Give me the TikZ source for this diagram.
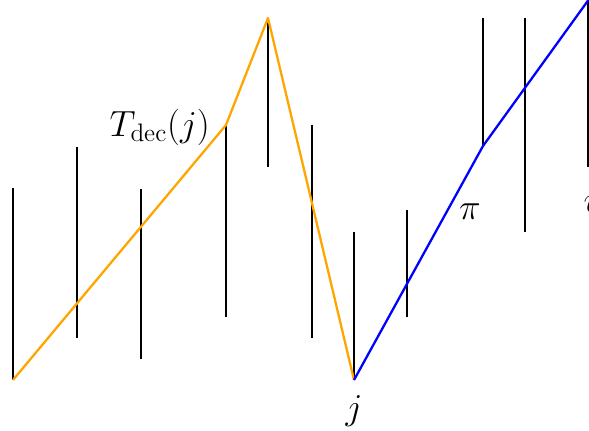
\documentclass[tikz,border=0pt]{standalone}
\usepackage{amsmath}
\usetikzlibrary{calc}
\definecolor{decorange}{RGB}{255,165,0}

\begin{document}
\begin{tikzpicture}[x = 0.02cm, y = -0.02cm, font = \fontsize{20.5}{24}\selectfont]
        % frame
        \useasboundingbox (0,0) rectangle (589,431);
        % bars
        \foreach \x/\t/\b [count=\i] in {13/188/380, 77/147/338, 141/189/359, 226/125/317, 268/18/167, 312/125/338, 354/232/380, 407/210/317, 483/18/146, 525/18/232, 588/0/167}{
            \coordinate(T\i) at (\x,\t);
            \coordinate(B\i) at (\x,\b);
            \path[draw, line width = 1.6pt](T\i) to (B\i);
        }
        % points
        \coordinate(P0) at (13,380);
        \coordinate(P1) at (226,125);
        \coordinate(P2) at (268,18);
        \coordinate(J) at (354,380);
        \coordinate(Q1) at (483,146);
        \coordinate(Q2) at (600,-16);
        % decreasing part
        \path[draw, decorange, line width = 1.3pt, line join = round](P0) to (P1) to (P2) to (J);
        % path pi
        \path[draw, blue, line width = 1.3pt, line join = round](J) to (Q1) to (Q2);
        % labels
        \node[left] (tdec) at (216,127) {$T_{\mathrm{dec}}(j)$};
        \node (jlab) at ($(J)+(0,31)$) {$j$};
        \node (pilab) at (470,212) {$\pi$};
        \node (vlab) at (593,205) {$v$};
    \end{tikzpicture}
\end{document}
